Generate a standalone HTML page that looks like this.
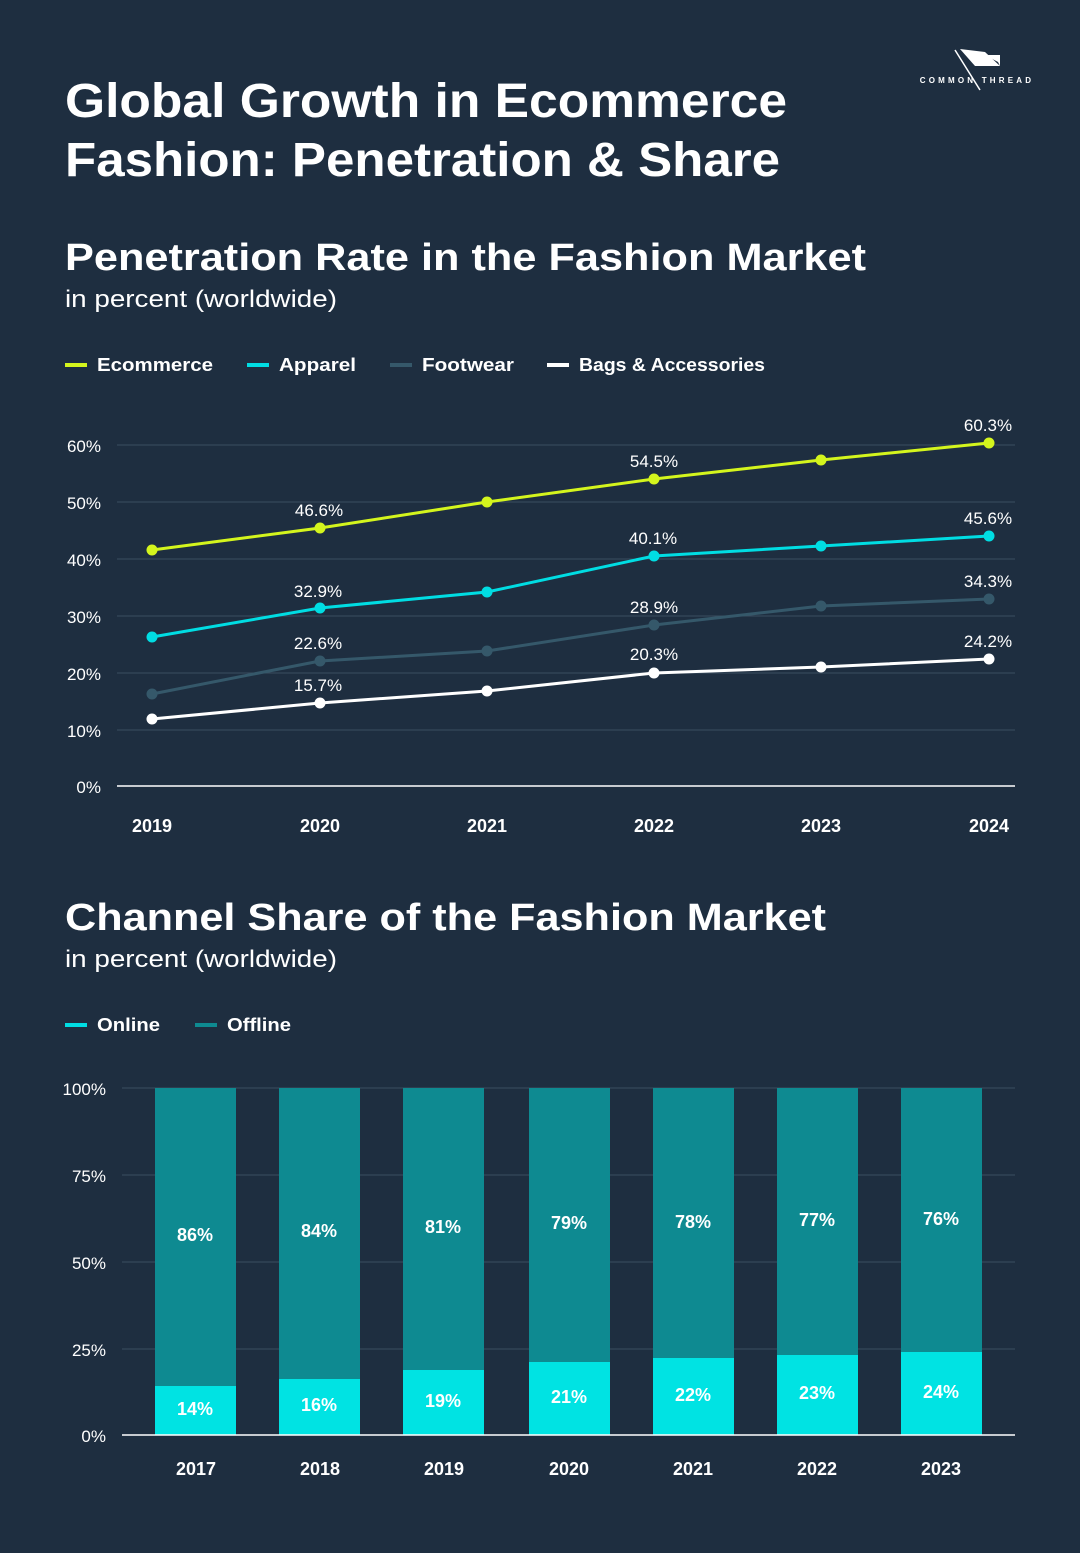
<!DOCTYPE html>
<html><head><meta charset="utf-8"><style>
body{margin:0;background:#1e2e40;}
svg{display:block;font-family:"Liberation Sans",sans-serif;}
</style></head><body>
<svg width="1080" height="1553" viewBox="0 0 1080 1553" xmlns="http://www.w3.org/2000/svg">
<rect width="1080" height="1553" fill="#1e2e40"/>
<!-- logo -->
<line x1="955" y1="50" x2="980" y2="90" stroke="#fff" stroke-width="1.5"/>
<polygon points="960,49 985,52 1000,66 975,66" fill="#fff"/>
<polygon points="975,66 1000,66 998,62 985,55 1000,55 1000,66" fill="#fff"/>
<text x="977" y="83" fill="#fff" font-size="8" font-weight="bold" letter-spacing="3.2" text-anchor="middle">COMMON THREAD</text>
<!-- titles -->
<text x="65" y="117" fill="#fff" font-size="48" font-weight="bold" textLength="722" lengthAdjust="spacingAndGlyphs">Global Growth in Ecommerce</text>
<text x="65" y="176" fill="#fff" font-size="48" font-weight="bold" textLength="715" lengthAdjust="spacingAndGlyphs">Fashion: Penetration &amp; Share</text>
<text x="65" y="270" fill="#fff" font-size="38" font-weight="bold" textLength="801" lengthAdjust="spacingAndGlyphs">Penetration Rate in the Fashion Market</text>
<text x="65" y="307" fill="#fff" font-size="24" textLength="272" lengthAdjust="spacingAndGlyphs">in percent (worldwide)</text>
<!-- legend 1 -->
<g font-size="18" font-weight="bold" fill="#fff">
<rect x="65" y="363" width="22" height="4" fill="#d4f51d"/><text x="97" y="371" textLength="116" lengthAdjust="spacingAndGlyphs">Ecommerce</text>
<rect x="247" y="363" width="22" height="4" fill="#00dde3"/><text x="279" y="371" textLength="77" lengthAdjust="spacingAndGlyphs">Apparel</text>
<rect x="390" y="363" width="22" height="4" fill="#35586a"/><text x="422" y="371" textLength="92" lengthAdjust="spacingAndGlyphs">Footwear</text>
<rect x="547" y="363" width="22" height="4" fill="#fff"/><text x="579" y="371" textLength="186" lengthAdjust="spacingAndGlyphs">Bags &amp; Accessories</text>
</g>
<!-- grid -->
<g stroke="#3b4d60" stroke-width="1">
<line x1="117" y1="445" x2="1015" y2="445"/><line x1="117" y1="502" x2="1015" y2="502"/>
<line x1="117" y1="559" x2="1015" y2="559"/><line x1="117" y1="616" x2="1015" y2="616"/>
<line x1="117" y1="673" x2="1015" y2="673"/><line x1="117" y1="730" x2="1015" y2="730"/>
</g>
<line x1="117" y1="786" x2="1015" y2="786" stroke="#fff" stroke-width="1.5"/>
<g fill="#fff" font-size="17" text-anchor="end">
<text x="101" y="452">60%</text><text x="101" y="509">50%</text><text x="101" y="566">40%</text>
<text x="101" y="623">30%</text><text x="101" y="680">20%</text><text x="101" y="737">10%</text><text x="101" y="793">0%</text>
</g>
<g fill="#fff" font-size="18" font-weight="bold" text-anchor="middle">
<text x="152" y="832">2019</text><text x="320" y="832">2020</text><text x="487" y="832">2021</text>
<text x="654" y="832">2022</text><text x="821" y="832">2023</text><text x="989" y="832">2024</text>
</g>
<!-- series -->
<g stroke-width="3" fill="none">
<polyline stroke="#d4f51d" points="152,550 320,528 487,502 654,479 821,460 989,443"/>
<polyline stroke="#00dde3" points="152,637 320,608 487,592 654,556 821,546 989,536"/>
<polyline stroke="#35586a" points="152,694 320,661 487,651 654,625 821,606 989,599"/>
<polyline stroke="#fff" points="152,719 320,703 487,691 654,673 821,667 989,659"/>
</g>
<g fill="#d4f51d"><circle cx="152" cy="550" r="5.5"/><circle cx="320" cy="528" r="5.5"/><circle cx="487" cy="502" r="5.5"/><circle cx="654" cy="479" r="5.5"/><circle cx="821" cy="460" r="5.5"/><circle cx="989" cy="443" r="5.5"/></g>
<g fill="#00dde3"><circle cx="152" cy="637" r="5.5"/><circle cx="320" cy="608" r="5.5"/><circle cx="487" cy="592" r="5.5"/><circle cx="654" cy="556" r="5.5"/><circle cx="821" cy="546" r="5.5"/><circle cx="989" cy="536" r="5.5"/></g>
<g fill="#35586a"><circle cx="152" cy="694" r="5.5"/><circle cx="320" cy="661" r="5.5"/><circle cx="487" cy="651" r="5.5"/><circle cx="654" cy="625" r="5.5"/><circle cx="821" cy="606" r="5.5"/><circle cx="989" cy="599" r="5.5"/></g>
<g fill="#fff"><circle cx="152" cy="719" r="5.5"/><circle cx="320" cy="703" r="5.5"/><circle cx="487" cy="691" r="5.5"/><circle cx="654" cy="673" r="5.5"/><circle cx="821" cy="667" r="5.5"/><circle cx="989" cy="659" r="5.5"/></g>
<g fill="#fff" font-size="17" text-anchor="middle">
<text x="319" y="516">46.6%</text><text x="654" y="467">54.5%</text><text x="988" y="431">60.3%</text>
<text x="318" y="597">32.9%</text><text x="653" y="544">40.1%</text><text x="988" y="524">45.6%</text>
<text x="318" y="649">22.6%</text><text x="654" y="613">28.9%</text><text x="988" y="587">34.3%</text>
<text x="318" y="691">15.7%</text><text x="654" y="660">20.3%</text><text x="988" y="647">24.2%</text>
</g>
<!-- chart 2 -->
<text x="65" y="930" fill="#fff" font-size="38" font-weight="bold" textLength="761" lengthAdjust="spacingAndGlyphs">Channel Share of the Fashion Market</text>
<text x="65" y="967" fill="#fff" font-size="24" textLength="272" lengthAdjust="spacingAndGlyphs">in percent (worldwide)</text>
<g font-size="18" font-weight="bold" fill="#fff">
<rect x="65" y="1023" width="22" height="4" fill="#00dde3"/><text x="97" y="1031" textLength="63" lengthAdjust="spacingAndGlyphs">Online</text>
<rect x="195" y="1023" width="22" height="4" fill="#0e8a91"/><text x="227" y="1031" textLength="64" lengthAdjust="spacingAndGlyphs">Offline</text>
</g>
<g stroke="#3b4d60" stroke-width="1">
<line x1="122" y1="1088" x2="1015" y2="1088"/><line x1="122" y1="1175" x2="1015" y2="1175"/>
<line x1="122" y1="1262" x2="1015" y2="1262"/><line x1="122" y1="1349" x2="1015" y2="1349"/>
</g>
<g fill="#fff" font-size="17" text-anchor="end">
<text x="106" y="1095">100%</text><text x="106" y="1182">75%</text><text x="106" y="1269">50%</text><text x="106" y="1356">25%</text><text x="106" y="1442">0%</text>
</g>
<g fill="#0e8a91">
<rect x="155" y="1088" width="81" height="347"/><rect x="279" y="1088" width="81" height="347"/>
<rect x="403" y="1088" width="81" height="347"/><rect x="529" y="1088" width="81" height="347"/>
<rect x="653" y="1088" width="81" height="347"/><rect x="777" y="1088" width="81" height="347"/>
<rect x="901" y="1088" width="81" height="347"/>
</g>
<g fill="#00e3e3">
<rect x="155" y="1386" width="81" height="49"/><rect x="279" y="1379" width="81" height="56"/>
<rect x="403" y="1370" width="81" height="65"/><rect x="529" y="1362" width="81" height="73"/>
<rect x="653" y="1358" width="81" height="77"/><rect x="777" y="1355" width="81" height="80"/>
<rect x="901" y="1352" width="81" height="83"/>
</g>
<line x1="122" y1="1435" x2="1015" y2="1435" stroke="#fff" stroke-width="1.5"/>
<g fill="#fff" font-size="18" font-weight="bold" text-anchor="middle">
<text x="195" y="1241">86%</text><text x="319" y="1237">84%</text><text x="443" y="1233">81%</text>
<text x="569" y="1229">79%</text><text x="693" y="1228">78%</text><text x="817" y="1226">77%</text><text x="941" y="1225">76%</text>
<text x="195" y="1415">14%</text><text x="319" y="1411">16%</text><text x="443" y="1407">19%</text>
<text x="569" y="1403">21%</text><text x="693" y="1401">22%</text><text x="817" y="1399">23%</text><text x="941" y="1398">24%</text>
<text x="196" y="1475">2017</text><text x="320" y="1475">2018</text><text x="444" y="1475">2019</text>
<text x="569" y="1475">2020</text><text x="693" y="1475">2021</text><text x="817" y="1475">2022</text><text x="941" y="1475">2023</text>
</g>
</svg>
</body></html>
